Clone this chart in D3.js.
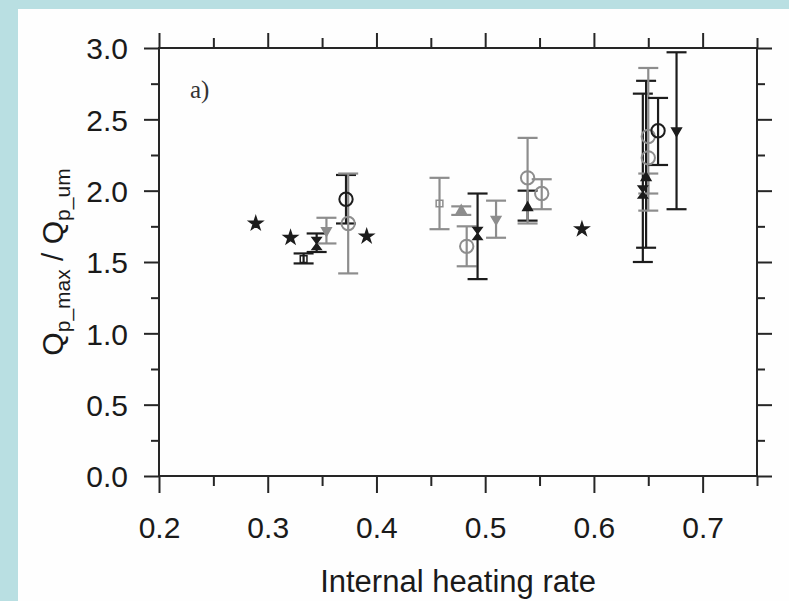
<!DOCTYPE html>
<html>
<head>
<meta charset="utf-8">
<script src="https://cdn.jsdelivr.net/npm/d3@7"></script>
<style>
  html, body { margin: 0; padding: 0; background: #b9dfe2; }
  svg { display: block; }
</style>
</head>
<body>
<div id="main"></div>
<script>
// values
var heatRate = [0.289, 0.321, 0.333, 0.345, 0.354, 0.372, 0.374, 0.391,
                0.458, 0.478, 0.483, 0.493, 0.510, 0.539, 0.539, 0.552, 0.589,
                0.645, 0.648, 0.650, 0.650, 0.659, 0.676];
var ratio    = [1.77, 1.67, 1.52, 1.63, 1.72, 1.94, 1.77, 1.68,
                1.91, 1.86, 1.61, 1.70, 1.80, 1.88, 2.09, 1.98, 1.73,
                1.99, 2.09, 2.23, 2.38, 2.42, 2.42];
var errLow   = [null, null, 1.49, 1.57, 1.63, 1.77, 1.42, null,
                1.73, 1.83, 1.47, 1.38, 1.67, 1.79, 1.77, 1.87, null,
                1.50, 1.60, 1.86, 1.98, 2.18, 1.87];
var errHigh  = [null, null, 1.56, 1.70, 1.81, 2.11, 2.12, null,
                2.09, 1.89, 1.75, 1.98, 1.93, 2.00, 2.37, 2.08, null,
                2.68, 2.77, 2.86, 2.12, 2.65, 2.97];
var symbol   = ["star", "star", "square", "hourglass", "triDown", "circle", "circle", "star",
                "square", "triUp", "circle", "hourglass", "triDown", "triUp", "circle", "circle", "star",
                "hourglass", "triUp", "circle", "circle", "circle", "triDown"];
var shade    = ["dark", "dark", "dark", "dark", "grey", "dark", "grey", "dark",
                "grey", "grey", "grey", "dark", "grey", "dark", "grey", "grey", "dark",
                "dark", "dark", "grey", "grey", "dark", "dark"];

var xMajor = [0.2, 0.3, 0.4, 0.5, 0.6, 0.7];
var xMinor = [0.25, 0.35, 0.45, 0.55, 0.65, 0.75];
var yMajor = [0, 0.5, 1.0, 1.5, 2.0, 2.5, 3.0];
var yMinor = [0.25, 0.75, 1.25, 1.75, 2.25, 2.75];

var data = heatRate.map(function(d, i) {
    return {x: d, y: ratio[i], lo: errLow[i], hi: errHigh[i], sym: symbol[i], shade: shade[i]};
});

var W = 789, H = 601;
var svg = d3.select("#main").append("svg")
    .attr("width", W)
    .attr("height", H);

// white panel on the blue page
svg.append("rect")
    .attr("x", 18).attr("y", 9)
    .attr("width", W - 18).attr("height", H - 9)
    .attr("fill", "#fefefe");

var plotL = 159, plotR = 757, plotT = 48, plotB = 476;

var x = d3.scaleLinear().domain([0.2, 0.75]).range([plotL, plotR]);
var y = d3.scaleLinear().domain([0, 3]).range([plotB, plotT]);

var ink = "#262626";
var font = "'Liberation Sans', Arial, Helvetica, sans-serif";
var colors = {dark: "#1c1c1c", grey: "#8d8d8d"};

function styleAxis(g) {
    g.select(".domain").remove();
    g.selectAll(".tick line").attr("stroke", ink).attr("stroke-width", 2);
    g.selectAll("text").attr("fill", "#1a1a1a").style("font-family", font).style("font-size", "30px");
}

// bottom
svg.append("g")
    .attr("transform", "translate(0," + plotB + ")")
    .call(d3.axisBottom(x).tickValues(xMinor).tickSize(10).tickFormat(""))
    .call(styleAxis);
svg.append("g")
    .attr("transform", "translate(0," + plotB + ")")
    .call(d3.axisBottom(x).tickValues(xMajor).tickSize(17).tickFormat(d3.format(".1f")))
    .call(styleAxis)
    .selectAll("text").attr("y", 62).attr("dy", 0);

// top
svg.append("g")
    .attr("transform", "translate(0," + plotT + ")")
    .call(d3.axisTop(x).tickValues(xMinor).tickSize(10).tickFormat(""))
    .call(styleAxis);
svg.append("g")
    .attr("transform", "translate(0," + plotT + ")")
    .call(d3.axisTop(x).tickValues(xMajor).tickSize(15).tickFormat(""))
    .call(styleAxis);

// left
svg.append("g")
    .attr("transform", "translate(" + plotL + ",0)")
    .call(d3.axisLeft(y).tickValues(yMinor).tickSize(8).tickFormat(""))
    .call(styleAxis);
svg.append("g")
    .attr("transform", "translate(" + plotL + ",0)")
    .call(d3.axisLeft(y).tickValues(yMajor).tickSize(15).tickFormat(d3.format(".1f")))
    .call(styleAxis)
    .selectAll("text").attr("x", -31).attr("dy", "0.36em");

// right
svg.append("g")
    .attr("transform", "translate(" + plotR + ",0)")
    .call(d3.axisRight(y).tickValues(yMinor).tickSize(8).tickFormat(""))
    .call(styleAxis);
svg.append("g")
    .attr("transform", "translate(" + plotR + ",0)")
    .call(d3.axisRight(y).tickValues(yMajor).tickSize(15).tickFormat(""))
    .call(styleAxis);

// frame
svg.append("rect")
    .attr("x", plotL).attr("y", plotT)
    .attr("width", plotR - plotL).attr("height", plotB - plotT)
    .attr("fill", "none")
    .attr("stroke", ink)
    .attr("stroke-width", 2);

// panel label
svg.append("text")
    .attr("x", 190).attr("y", 98)
    .style("font-family", "'Liberation Serif', 'Times New Roman', serif")
    .style("font-size", "25px")
    .attr("fill", "#333")
    .text("a)");

// error bars
var cap = 10;
var bars = svg.append("g").selectAll("g")
    .data(data.filter(function(d) { return d.lo !== null; }))
    .enter().append("g")
    .attr("stroke", function(d) { return colors[d.shade]; })
    .attr("stroke-width", 2.2);

bars.append("line")
    .attr("x1", function(d) { return x(d.x); })
    .attr("x2", function(d) { return x(d.x); })
    .attr("y1", function(d) { return y(d.lo); })
    .attr("y2", function(d) { return y(d.hi); });
bars.append("line")
    .attr("x1", function(d) { return x(d.x) - cap; })
    .attr("x2", function(d) { return x(d.x) + cap; })
    .attr("y1", function(d) { return y(d.lo); })
    .attr("y2", function(d) { return y(d.lo); });
bars.append("line")
    .attr("x1", function(d) { return x(d.x) - cap; })
    .attr("x2", function(d) { return x(d.x) + cap; })
    .attr("y1", function(d) { return y(d.hi); })
    .attr("y2", function(d) { return y(d.hi); });

// markers
var hourglass = "M-4.5,-6L4.5,-6L-4.5,6L4.5,6Z";
function markerPath(s) {
    if (s == "star") return d3.symbol().type(d3.symbolStar).size(55)();
    if (s == "square") return d3.symbol().type(d3.symbolSquare).size(45)();
    if (s == "triUp") return d3.symbol().type(d3.symbolTriangle).size(40)();
    if (s == "triDown") return d3.symbol().type(d3.symbolTriangle).size(40)();
    if (s == "hourglass") return hourglass;
    return d3.symbol().type(d3.symbolCircle).size(140)();
}

svg.append("g").selectAll("path")
    .data(data)
    .enter().append("path")
    .attr("d", function(d) { return markerPath(d.sym); })
    .attr("transform", function(d) {
        var r = d.sym == "triDown" ? " rotate(180)" : "";
        return "translate(" + x(d.x) + "," + y(d.y) + ")" + r;
    })
    .attr("fill", function(d) {
        return (d.sym == "circle" || d.sym == "square") ? "none" : colors[d.shade];
    })
    .attr("stroke", function(d) { return colors[d.shade]; })
    .attr("stroke-width", function(d) { return d.sym == "circle" ? 2 : 1.5; });

// axis titles
svg.append("text")
    .attr("x", (plotL + plotR) / 2).attr("y", 592)
    .attr("text-anchor", "middle")
    .style("font-family", font)
    .style("font-size", "31px")
    .attr("fill", "#1a1a1a")
    .text("Internal heating rate");

var yt = svg.append("text")
    .attr("transform", "translate(63,262) rotate(-90)")
    .attr("text-anchor", "middle")
    .style("font-family", font)
    .style("font-size", "30px")
    .attr("fill", "#1a1a1a");
yt.append("tspan").text("Q");
yt.append("tspan").attr("dy", 7).style("font-size", "21px").text("p_max");
yt.append("tspan").attr("dy", -7).text(" / Q");
yt.append("tspan").attr("dy", 7).style("font-size", "21px").text("p_um");
</script>
</body>
</html>
